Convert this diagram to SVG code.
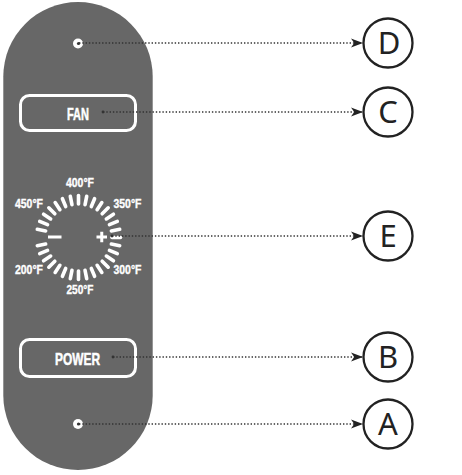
<svg xmlns="http://www.w3.org/2000/svg" xmlns:xlink="http://www.w3.org/1999/xlink" width="462" height="475" viewBox="0 0 462 475">
<defs>
<style>
.panel{fill:#676767}
.btn{fill:none;stroke:#fff;stroke-width:3}
.lbl{fill:#fff;stroke:#fff;stroke-width:0.5;font-family:"Liberation Sans",Arial,sans-serif;font-weight:bold;text-anchor:middle}
.tmp{font-size:12.5px;stroke-width:0.35}
.tick{stroke:#fff;stroke-width:3.6;stroke-linecap:round}
.dot{fill:#fff}
.conn{stroke:#333;stroke-width:1.4;stroke-dasharray:1.4 1.9;fill:none}
.start{fill:#333}
.ring{fill:#fff;stroke:#222;stroke-width:2.3}
.letter{fill:#222;font-family:"Noto Sans","DejaVu Sans",sans-serif;font-size:31px;text-anchor:middle}
</style>
<marker id="arr" viewBox="0 0 12 10" refX="12" refY="5" markerWidth="12" markerHeight="10" markerUnits="userSpaceOnUse" orient="auto">
<path d="M12,5 L0,0.5 L3.2,5 L0,9.5 Z" fill="#222"/>
</marker>
<line id="tk" class="tick" x1="0" y1="-33.5" x2="0" y2="-42"/>
</defs>

<g id="panel">
<rect class="panel" x="3.3" y="2" width="149.4" height="468" rx="74.7" ry="74.7"/>
</g>

<g id="dotD"><circle class="dot" cx="78" cy="43.5" r="5"/></g>

<g id="fan">
<rect class="btn" x="20.5" y="95.5" width="115" height="35" rx="9"/>
<text class="lbl" x="78" y="120" font-size="16.5" textLength="22" lengthAdjust="spacingAndGlyphs">FAN</text>
</g>

<g id="dial">
<use xlink:href="#tk" transform="translate(78.5 237.5) rotate(0)"/>
<use xlink:href="#tk" transform="translate(78.5 237.5) rotate(11.25)"/>
<use xlink:href="#tk" transform="translate(78.5 237.5) rotate(22.5)"/>
<use xlink:href="#tk" transform="translate(78.5 237.5) rotate(33.75)"/>
<use xlink:href="#tk" transform="translate(78.5 237.5) rotate(45)"/>
<use xlink:href="#tk" transform="translate(78.5 237.5) rotate(56.25)"/>
<use xlink:href="#tk" transform="translate(78.5 237.5) rotate(67.5)"/>
<use xlink:href="#tk" transform="translate(78.5 237.5) rotate(78.75)"/>
<use xlink:href="#tk" transform="translate(78.5 237.5) rotate(90)"/>
<use xlink:href="#tk" transform="translate(78.5 237.5) rotate(101.25)"/>
<use xlink:href="#tk" transform="translate(78.5 237.5) rotate(112.5)"/>
<use xlink:href="#tk" transform="translate(78.5 237.5) rotate(123.75)"/>
<use xlink:href="#tk" transform="translate(78.5 237.5) rotate(135)"/>
<use xlink:href="#tk" transform="translate(78.5 237.5) rotate(146.25)"/>
<use xlink:href="#tk" transform="translate(78.5 237.5) rotate(157.5)"/>
<use xlink:href="#tk" transform="translate(78.5 237.5) rotate(168.75)"/>
<use xlink:href="#tk" transform="translate(78.5 237.5) rotate(180)"/>
<use xlink:href="#tk" transform="translate(78.5 237.5) rotate(191.25)"/>
<use xlink:href="#tk" transform="translate(78.5 237.5) rotate(202.5)"/>
<use xlink:href="#tk" transform="translate(78.5 237.5) rotate(213.75)"/>
<use xlink:href="#tk" transform="translate(78.5 237.5) rotate(225)"/>
<use xlink:href="#tk" transform="translate(78.5 237.5) rotate(236.25)"/>
<use xlink:href="#tk" transform="translate(78.5 237.5) rotate(247.5)"/>
<use xlink:href="#tk" transform="translate(78.5 237.5) rotate(258.75)"/>
<use xlink:href="#tk" transform="translate(78.5 237.5) rotate(281.25)"/>
<use xlink:href="#tk" transform="translate(78.5 237.5) rotate(292.5)"/>
<use xlink:href="#tk" transform="translate(78.5 237.5) rotate(303.75)"/>
<use xlink:href="#tk" transform="translate(78.5 237.5) rotate(315)"/>
<use xlink:href="#tk" transform="translate(78.5 237.5) rotate(326.25)"/>
<use xlink:href="#tk" transform="translate(78.5 237.5) rotate(337.5)"/>
<use xlink:href="#tk" transform="translate(78.5 237.5) rotate(348.75)"/>
<rect x="48" y="235.5" width="13.5" height="3" fill="#fff"/>
<rect x="96.5" y="235.5" width="10.5" height="3" fill="#fff"/>
<rect x="100.25" y="231.75" width="3" height="10.5" fill="#fff"/>
<text class="lbl tmp" x="80" y="187" textLength="28" lengthAdjust="spacingAndGlyphs">400°F</text>
<text class="lbl tmp" x="29" y="207.5" textLength="28" lengthAdjust="spacingAndGlyphs">450°F</text>
<text class="lbl tmp" x="127.5" y="207.5" textLength="28" lengthAdjust="spacingAndGlyphs">350°F</text>
<text class="lbl tmp" x="29" y="274" textLength="28" lengthAdjust="spacingAndGlyphs">200°F</text>
<text class="lbl tmp" x="127.5" y="274" textLength="28" lengthAdjust="spacingAndGlyphs">300°F</text>
<text class="lbl tmp" x="80" y="294" textLength="27" lengthAdjust="spacingAndGlyphs">250°F</text>
</g>

<g id="power">
<rect class="btn" x="20.5" y="339.5" width="115" height="37" rx="9"/>
<text class="lbl" x="77.5" y="364.5" font-size="16.5" textLength="45" lengthAdjust="spacingAndGlyphs">POWER</text>
</g>

<g id="dotA"><circle class="dot" cx="78" cy="424" r="5"/></g>

<g id="connectors">
<line class="conn" x1="79" y1="43" x2="363" y2="43" marker-end="url(#arr)"/>
<line class="conn" x1="103" y1="112" x2="363" y2="112" marker-end="url(#arr)"/>
<line class="conn" x1="112" y1="236" x2="363" y2="236" marker-end="url(#arr)"/>
<line class="conn" x1="113" y1="357" x2="363" y2="357" marker-end="url(#arr)"/>
<line class="conn" x1="79" y1="424" x2="363" y2="424" marker-end="url(#arr)"/>
<circle class="start" cx="78.5" cy="43.5" r="1.6"/>
<circle class="start" cx="103" cy="112" r="1.4"/>
<circle class="start" cx="112" cy="236" r="1.4"/>
<circle class="start" cx="113" cy="357" r="1.4"/>
<circle class="start" cx="78.5" cy="424" r="1.6"/>
</g>

<g id="D"><circle class="ring" cx="388" cy="43" r="24.5"/><text class="letter" x="389" y="54">D</text></g>
<g id="C"><circle class="ring" cx="388" cy="112" r="24.5"/><text class="letter" x="388" y="123">C</text></g>
<g id="E"><circle class="ring" cx="388" cy="236" r="24.5"/><text class="letter" x="388" y="247">E</text></g>
<g id="B"><circle class="ring" cx="388" cy="357" r="24.5"/><text class="letter" x="388" y="368">B</text></g>
<g id="A"><circle class="ring" cx="388" cy="424" r="24.5"/><text class="letter" x="388" y="435">A</text></g>
</svg>
